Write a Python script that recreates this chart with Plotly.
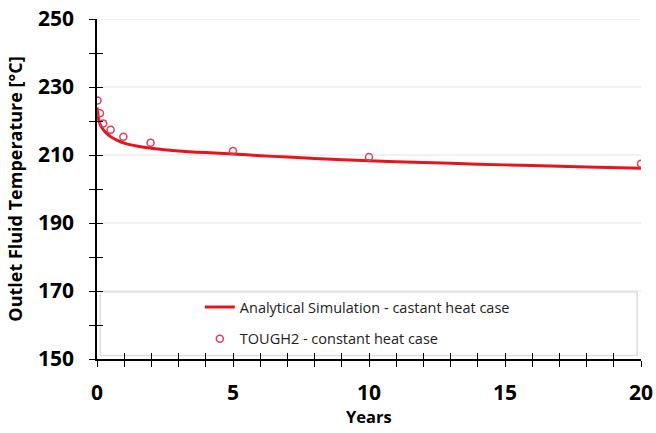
import plotly.graph_objects as go

# Analytical simulation (constant heat case)
ana_years = [0, 0.05, 0.1, 0.2, 0.3, 0.5, 0.75, 1, 1.5, 2, 3, 4, 5, 6, 7, 8, 10, 12, 14, 16, 18, 20]
ana_temp = [224, 221, 219.3, 217.8, 216.8, 215.4, 214.3, 213.5, 212.6, 212, 211.2, 210.7, 210.3,
            209.8, 209.4, 209.0, 208.3, 207.8, 207.3, 206.9, 206.5, 206.1]

# TOUGH2 (constant heat case)
t2_years = [0.02, 0.11, 0.23, 0.5, 0.97, 1.97, 5, 10, 20]
t2_temp = [226, 222.3, 219.3, 217.4, 215.4, 213.6, 211.2, 209.4, 207.4]

y_ticks = list(range(150, 251, 10))
y_labels = [str(v) if (v - 150) % 20 == 0 else "" for v in y_ticks]
x_ticks = list(range(0, 21))
x_labels = [str(v) if v % 5 == 0 else "" for v in x_ticks]

fig = go.Figure()
fig.add_trace(go.Scatter(x=ana_years, y=ana_temp, mode="lines",
                         line=dict(color="#e8141c", width=3, shape="spline", smoothing=0.6),
                         name="Analytical Simulation - castant heat case", legendgroup="a"))
fig.add_trace(go.Scatter(x=t2_years, y=t2_temp, mode="markers",
                         marker=dict(symbol="circle-open", size=7, color="#d9405a", line=dict(width=1.5)),
                         name="TOUGH2 - constant heat case", legendgroup="b"))

font_main = "Open Sans, Liberation Sans, sans-serif"
fig.update_layout(
    width=656, height=433,
    margin=dict(l=97, r=15, t=19, b=74, autoexpand=False),
    paper_bgcolor="white", plot_bgcolor="white",
    font=dict(family=font_main, color="black"),
    showlegend=True,
    legend=dict(x=0.189, y=0.2, xanchor="left", yanchor="top", bgcolor="rgba(0,0,0,0)",
                font=dict(size=14.5, color="#222"), tracegroupgap=10, itemwidth=30),
    xaxis=dict(range=[0, 20], tickvals=x_ticks, ticktext=x_labels, ticks="outside", ticklen=6,
               tickcolor="black", showline=True, linecolor="black", linewidth=1.5, showgrid=False,
               zeroline=False, ticklabelstandoff=8,
               tickfont=dict(size=21, family=font_main, weight="bold")),
    yaxis=dict(range=[150, 250], tickvals=y_ticks, ticktext=y_labels, ticks="outside", ticklen=6,
               tickcolor="black", showline=True, linecolor="black", linewidth=1.5,
               showgrid=False, zeroline=False, ticklabelstandoff=11,
               tickfont=dict(size=21, family=font_main, weight="bold"),
               title=dict(text="Outlet Fluid Temperature [°C]", font=dict(size=18, weight="bold"), standoff=11)),
    xaxis2=dict(range=[0, 20], overlaying="x", tickvals=x_ticks, ticks="inside", ticklen=6,
                tickcolor="black", showticklabels=False, showgrid=False, zeroline=False),
    yaxis2=dict(range=[150, 250], overlaying="y", tickvals=y_ticks, ticks="inside", ticklen=6,
                tickcolor="black", showticklabels=False, showgrid=False, zeroline=False),
    annotations=[dict(text="Years", xref="paper", yref="paper", x=0.5, y=-0.168,
                      xanchor="center", yanchor="middle", showarrow=False,
                      font=dict(size=16.5, weight="bold", family=font_main, color="black"))],
)
# dummy trace to activate inside tick axes
fig.add_trace(go.Scatter(x=[None], y=[None], xaxis="x2", yaxis="y2", showlegend=False, hoverinfo="skip"))

# faint gridlines
for g in [170, 190, 210, 230, 250]:
    fig.add_shape(type="line", xref="paper", yref="y", x0=0.005, x1=1, y0=g, y1=g,
                  line=dict(color="#ececec", width=1.5), layer="below")
# legend frame
fig.add_shape(type="rect", xref="paper", yref="paper", x0=0.006, x1=0.993, y0=0.01, y1=0.197,
              line=dict(color="#dedede", width=1.5), fillcolor="white", layer="below")

fig.write_html("out.html")
